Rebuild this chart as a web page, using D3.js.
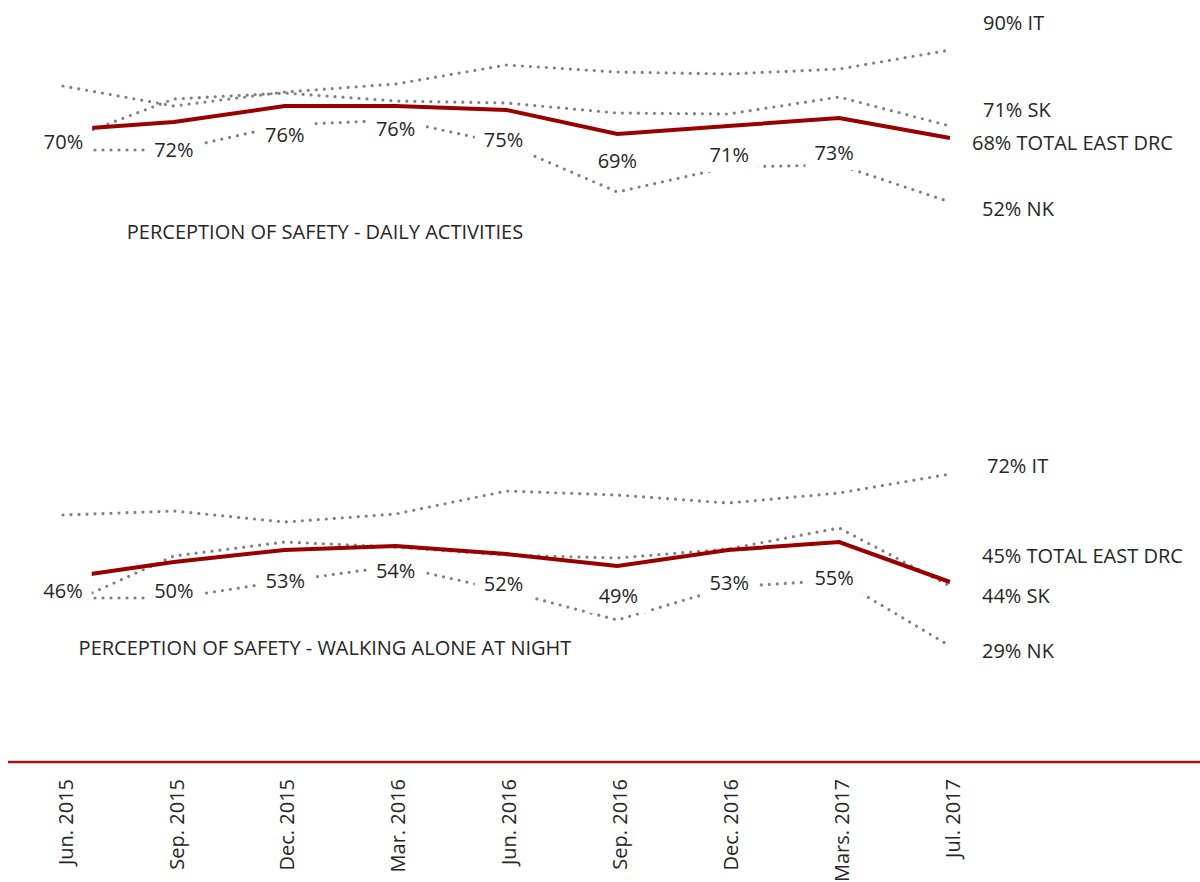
<!DOCTYPE html>
<html><head><meta charset="utf-8">
<script src="https://cdn.jsdelivr.net/npm/d3@7"></script>
<style>
body{margin:0;background:#fff}
svg{display:block}
text{font-family:"Open Sans",sans-serif;fill:#262626}
</style>
</head><body><svg id="c" width="1200" height="882"></svg>
<script>
// ---------- data ----------
const categories = ["Jun. 2015","Sep. 2015","Dec. 2015","Mar. 2016","Jun. 2016","Sep. 2016","Dec. 2016","Mars. 2017","Jul. 2017"];
const panelTitles = ["PERCEPTION OF SAFETY - DAILY ACTIVITIES","PERCEPTION OF SAFETY - WALKING ALONE AT NIGHT"];
const seriesNames = ["IT","SK","NK","TOTAL EAST DRC"];

const dailyTotal = [70,72,76,76,75,69,71,73,68];
const dailyIT    = [81,76,79.5,81.5,86.25,84.5,84,85.25,90];
const dailySK    = [67.25,77.75,79.25,77.25,76.75,74.25,74,78.25,71];
const dailyNK    = [65,65,71.25,72.5,66.5,54.5,60.75,61.25,52];

const nightTotal = [46,50,53,54,52,49,53,55,45];
const nightIT    = [61.75,62.75,60,62,67.75,66.75,64.75,67.25,72];
const nightSK    = [39,51.5,55,53.75,51.75,51,53.25,58.5,44];
const nightNK    = [41,41,45.25,49,42.75,35.5,43.75,45.5,29];

// ---------- layout (label nudges, px) ----------
const dailyLabelDx = [0.5,0,0,0,-3,0,1,-5];
const dailyLabelDy = [12,28,28.5,23,30,27,29,35];
const nightLabelDx = [0,0,0.5,0,-3,1,1,-5];
const nightLabelDy = [13,29,31,25,30,30,33,36];
// end labels: order IT, SK, NK, TOTAL
const dailyEndDx = [33,33,32,22];
const dailyEndDy = [-27,-16,7,5];
const nightEndDx = [37,32,32,32];
const nightEndDy = [-8,10,5,-26];

const svg = d3.select("#c");
const W = 1200, H = 882;

const x = d3.scalePoint().domain(categories).range([63, 950]);

const panels = [
  {y: d3.scaleLinear().domain([0,100]).range([410,10]), total: dailyTotal, others: [dailyIT, dailySK, dailyNK],
   ldx: dailyLabelDx, ldy: dailyLabelDy, edx: dailyEndDx, edy: dailyEndDy, title: panelTitles[0], titleY: 232},
  {y: d3.scaleLinear().domain([0,100]).range([762,362]), total: nightTotal, others: [nightIT, nightSK, nightNK],
   ldx: nightLabelDx, ldy: nightLabelDy, edx: nightEndDx, edy: nightEndDy, title: panelTitles[1], titleY: 648}
];

const FS = 20;
const capHalf = FS * 0.357;

panels.forEach(p => {
  const g = svg.append("g");
  const line = d3.line().x((d,i) => x(categories[i])).y(d => p.y(d));

  // gray dotted series
  p.others.forEach(s => {
    g.append("path").attr("d", line(s))
      .attr("fill","none").attr("stroke","#808080")
      .attr("stroke-width",3.2).attr("stroke-linecap","round")
      .attr("stroke-dasharray","0 8");
  });
  // total line
  g.append("path").attr("d", line(p.total))
    .attr("fill","none").attr("stroke","#990000")
    .attr("stroke-width",4).attr("stroke-linejoin","miter");

  // data labels with white boxes (all but last point)
  const lg = g.append("g");
  p.total.slice(0, -1).forEach((v,i) => {
    const cx = x(categories[i]) + p.ldx[i];
    const cy = p.y(v) + p.ldy[i];
    const t = lg.append("text").attr("x", cx).attr("y", cy + capHalf)
      .attr("text-anchor","middle").attr("font-size", FS).text(v + "%");
    const bb = t.node().getBBox();
    lg.insert("rect", () => t.node())
      .attr("x", bb.x - 9).attr("y", cy - 19).attr("width", bb.width + 18).attr("height", 36)
      .attr("fill","#fff");
  });

  // end labels
  const ends = [p.others[0], p.others[1], p.others[2], p.total];
  ends.forEach((s,k) => {
    const last = s[s.length-1];
    g.append("text")
      .attr("x", x(categories[categories.length-1]) + p.edx[k])
      .attr("y", p.y(last) + p.edy[k] + capHalf)
      .attr("font-size", FS)
      .text(Math.round(last) + "% " + seriesNames[k]);
  });

  // panel title
  g.append("text").attr("x", 325).attr("y", p.titleY + capHalf)
    .attr("text-anchor","middle").attr("font-size", FS).text(p.title);
});

// axis baseline
svg.append("line").attr("x1", 8).attr("x2", W).attr("y1", 762).attr("y2", 762)
  .attr("stroke","#a6141a").attr("stroke-width",2.6);

const axis = svg.append("g").attr("transform","translate(0,762)")
  .call(d3.axisBottom(x).tickSize(0));
axis.select(".domain").remove();
axis.selectAll("text")
  .attr("font-family","\"Open Sans\",sans-serif").attr("font-size", FS).attr("fill","#262626")
  .attr("transform","rotate(-90)")
  .attr("text-anchor","end")
  .attr("x", -17).attr("y", 2 + capHalf).attr("dy", 0);
</script>
</body></html>
